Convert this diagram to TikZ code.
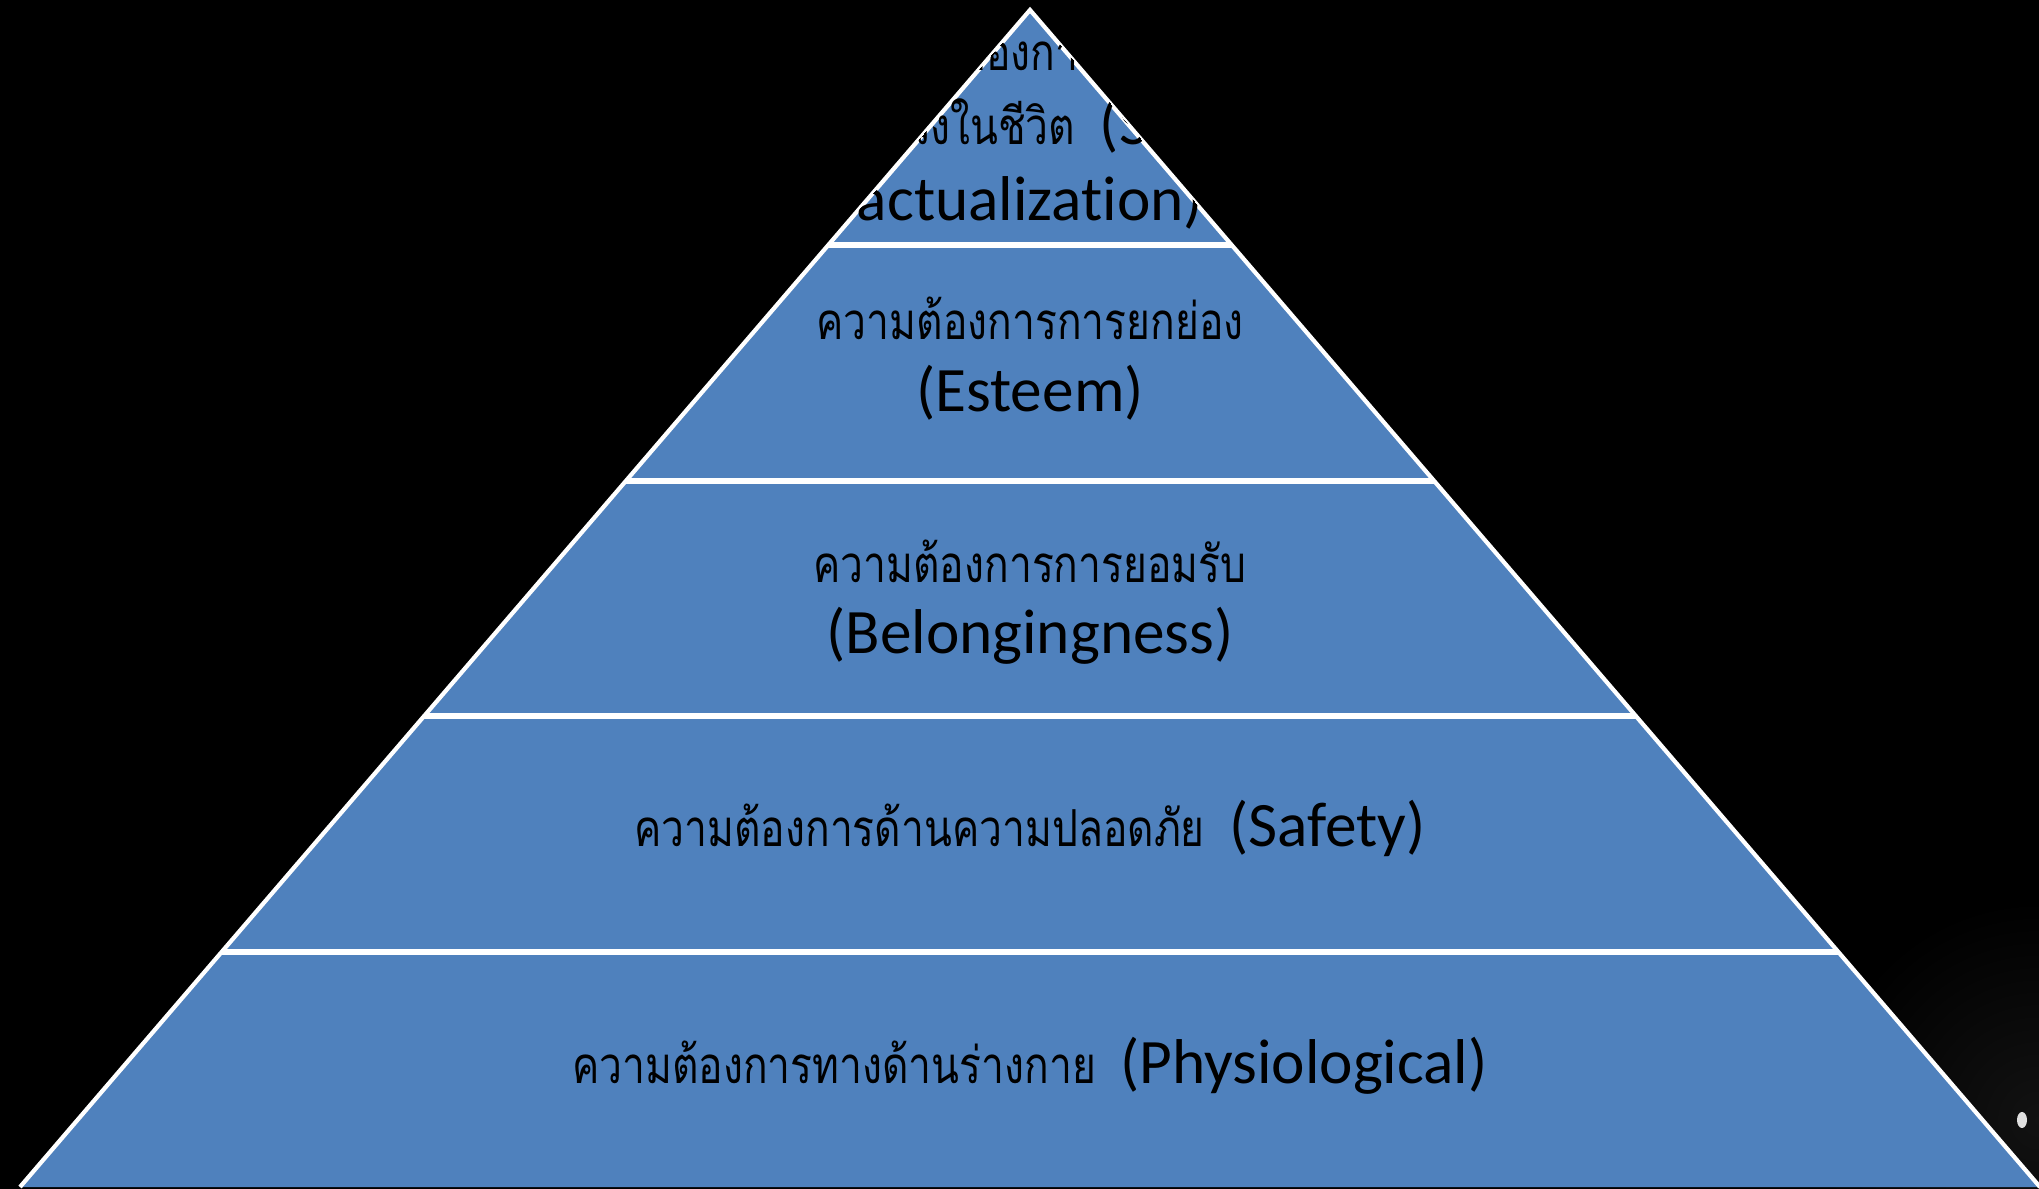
\documentclass[tikz,border=0pt]{standalone}
\usepackage{fontspec}
\usetikzlibrary{calc}
\setmainfont{Carlito}[Ligatures=NoCommon]
\newfontfamily\thaifont[Script=Thai,FakeStretch=0.8]{Loma}
\newcommand{\thaitext}[1]{{\thaifont\fontsize{14.5}{17}\selectfont #1}}
\definecolor{pyrblue}{HTML}{4F81BD}
\begin{document}
\begin{tikzpicture}[x=0.01cm,y=-0.01cm,
  eng/.style={font=\fontsize{18}{21}\selectfont, text=black, inner sep=0pt},
  thai/.style={font=\thaifont\fontsize{14.5}{17}\selectfont, text=black, inner sep=0pt},
  sepline/.style={draw=white, line width=1.7pt},
  edgeline/.style={draw=white, line width=1.2pt, line join=miter}]
\fill[black] (0,0) rectangle (2039,1189);
\useasboundingbox (0,0) rectangle (2039,1189);
% faint haze and glare, bottom right
\shade[inner color=black!93!white, outer color=black] (2039,1120) circle [radius=2.2cm];
\fill[white!88!black] (2022,1120) ellipse [x radius=0.05cm, y radius=0.08cm];
\coordinate (apex) at (1030,10);
\coordinate (bl) at (20,1187);
\coordinate (br) at (2040,1187);
\foreach \i/\t in {1/0.2,2/0.4,3/0.6,4/0.8}{
  \coordinate (L\i) at ($(apex)!\t!(bl)$);
  \coordinate (R\i) at ($(apex)!\t!(br)$);
}
\fill[pyrblue] (apex) -- (bl) -- (br) -- cycle;
\foreach \i in {1,2,3,4}{\draw[sepline] (L\i) -- (R\i);}
\draw[edgeline] (bl) -- (apex) -- (br);
% top level text, clipped to triangle
\begin{scope}
\clip (apex) -- (L1) -- (R1) -- cycle;
\node[thai] (top1) at (1030,49) {ความต้องการความ};
\node[eng] (top2) at (1030,126) {\thaitext{สมหวังในชีวิต}\hspace{7pt}(Self-};
\node[eng] (top3) at (1030,202) {actualization)};
\end{scope}
\node[thai] (est1) at (1030,318) {ความต้องการการยกย่อง};
\node[eng] (est2) at (1030,393) {(Esteem)};
\node[thai] (bel1) at (1030,561) {ความต้องการการยอมรับ};
\node[eng] (bel2) at (1030,636) {(Belongingness)};
\node[eng] (saf) at (1030,828) {\thaitext{ความต้องการด้านความปลอดภัย}\hspace{7pt}(Safety)};
\node[eng] (phy) at (1030,1066) {\thaitext{ความต้องการทางด้านร่างกาย}\hspace{7pt}(Physiological)};
\end{tikzpicture}
\end{document}
